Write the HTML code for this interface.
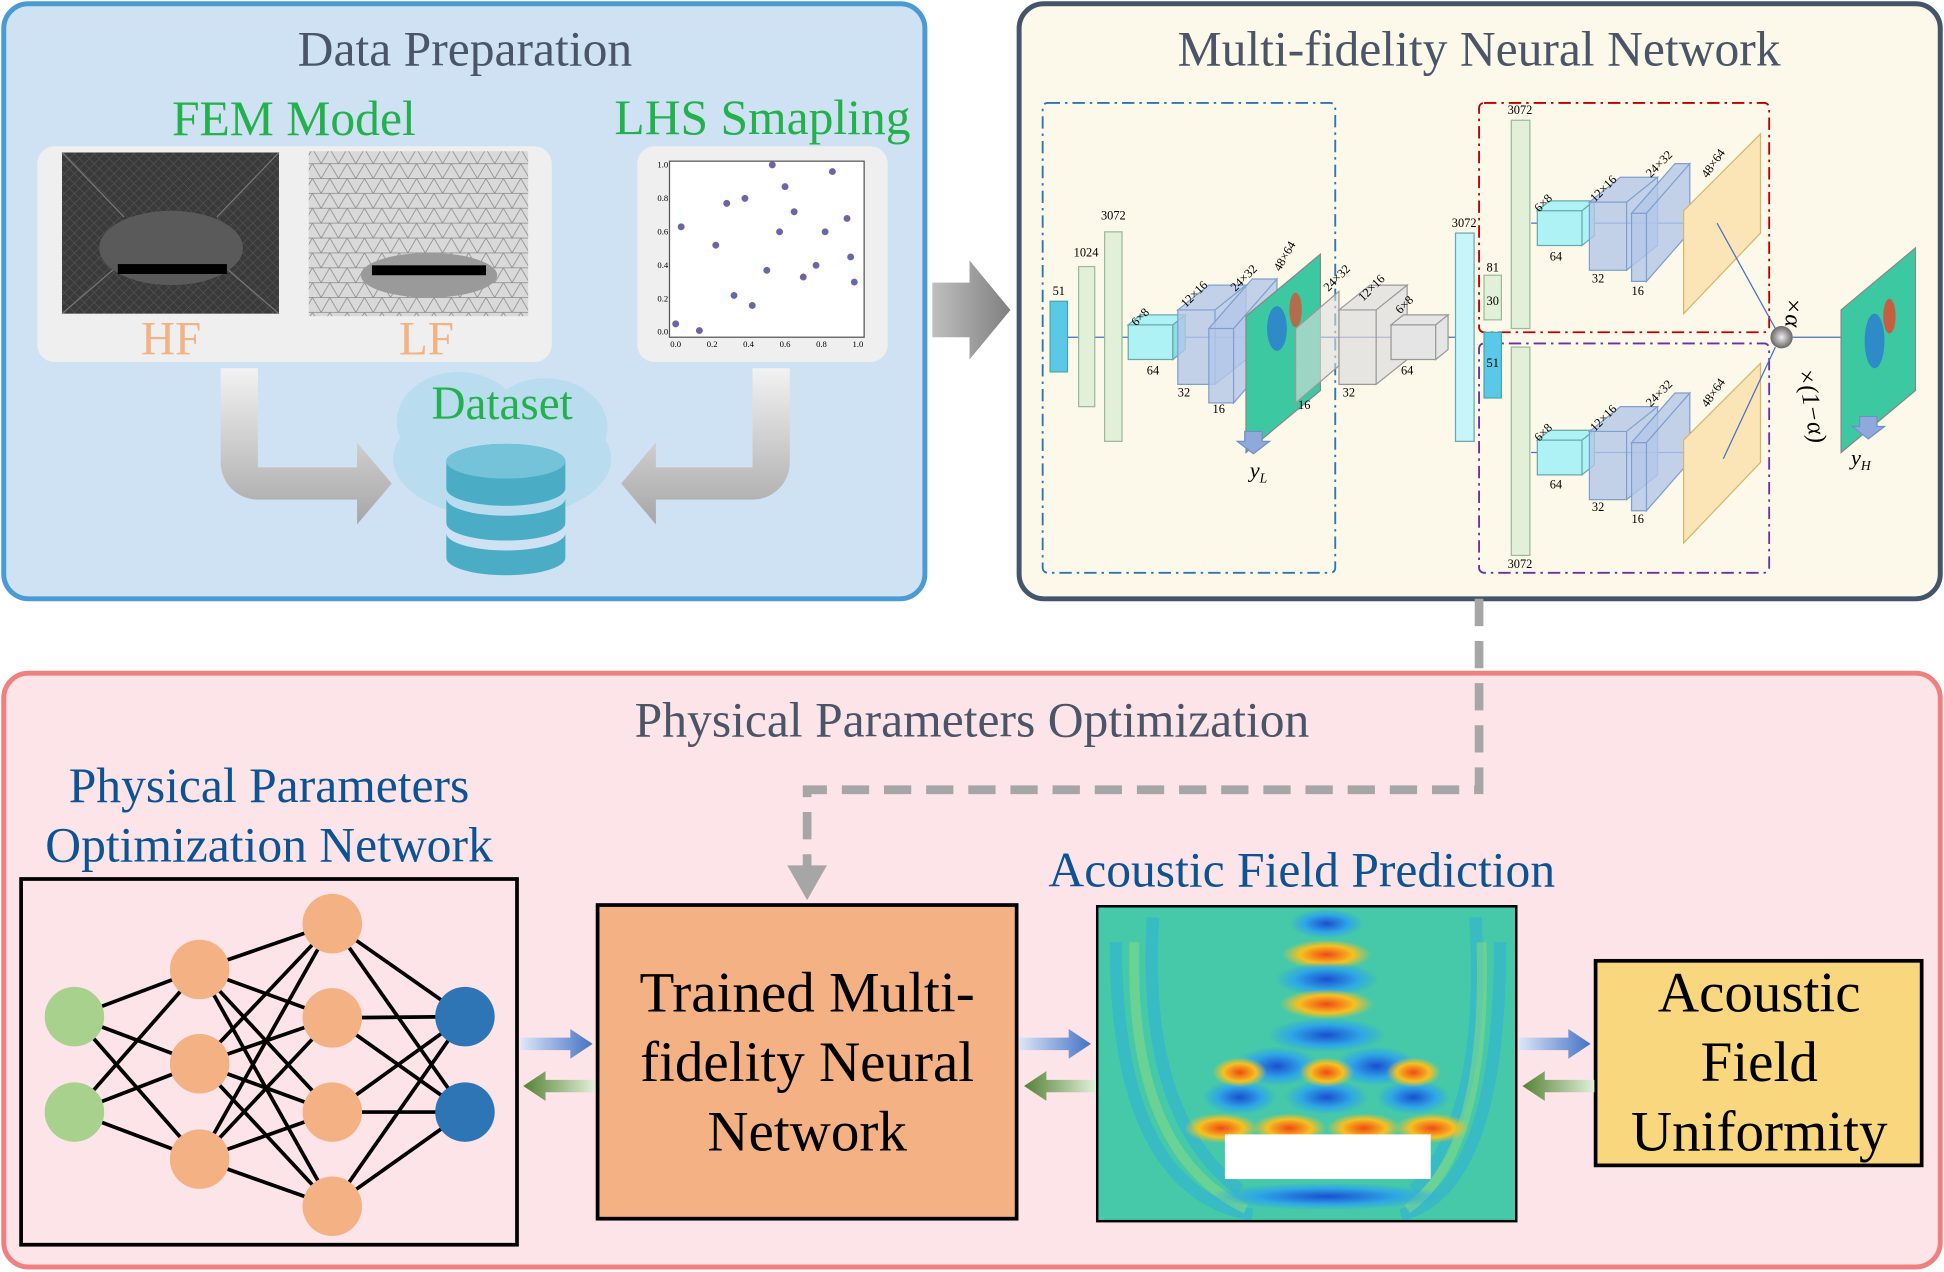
<!DOCTYPE html>
<html><head><meta charset="utf-8"><style>
html,body{margin:0;padding:0;background:#fff}
svg{display:block}
text{font-family:"Liberation Serif",serif}
</style></head><body>
<svg id="fig" width="1944" height="1272" viewBox="0 0 1568 1026" xmlns="http://www.w3.org/2000/svg">
<defs>
<linearGradient id="gArrowV" x1="0" y1="0" x2="0" y2="1"><stop offset="0" stop-color="#f2f2f2"/><stop offset="1" stop-color="#a6a6a6"/></linearGradient>
<linearGradient id="gBig" x1="0" y1="0" x2="1" y2="0"><stop offset="0" stop-color="#bfbfbf"/><stop offset="1" stop-color="#7f7f7f"/></linearGradient>
<linearGradient id="gBlue" x1="0" y1="0" x2="1" y2="0"><stop offset="0" stop-color="#dde6f7"/><stop offset="1" stop-color="#4472c4"/></linearGradient>
<linearGradient id="gGreen" x1="1" y1="0" x2="0" y2="0"><stop offset="0" stop-color="#e2f0d9"/><stop offset="1" stop-color="#548235"/></linearGradient>
<radialGradient id="gBall"><stop offset="0" stop-color="#eee"/><stop offset="1" stop-color="#666"/></radialGradient>
<pattern id="meshDark" width="8" height="8" patternUnits="userSpaceOnUse"><rect width="8" height="8" fill="#3a3a3a"/><path d="M0 0L8 8M0 8L8 0" stroke="#555" stroke-width="0.5"/></pattern>
<pattern id="meshLight" width="14" height="12" patternUnits="userSpaceOnUse"><rect width="14" height="12" fill="#d9d9d9"/><path d="M0 0L14 0L7 12Z M0 12L14 12" fill="none" stroke="#888" stroke-width="0.6"/></pattern>
<radialGradient id="fieldBlue"><stop offset="0" stop-color="#1a4fd0"/><stop offset="0.6" stop-color="#2fa7e6"/><stop offset="1" stop-color="#2fa7e6" stop-opacity="0"/></radialGradient>
<radialGradient id="fieldOrange"><stop offset="0" stop-color="#f04a14"/><stop offset="0.6" stop-color="#f6c021"/><stop offset="1" stop-color="#f6c021" stop-opacity="0"/></radialGradient>
</defs>

<g>
<rect x="3" y="3" width="743" height="480" rx="20" fill="#cfe2f3" stroke="#4a9bd4" stroke-width="4"/>
<text x="375" y="53" font-size="40" fill="#4a5568" text-anchor="middle">Data Preparation</text>
<text x="237" y="109" font-size="40" fill="#22b14c" text-anchor="middle">FEM Model</text>
<text x="615" y="108" font-size="40" fill="#22b14c" text-anchor="middle">LHS Smapling</text>
<rect x="30" y="118" width="415" height="174" rx="14" fill="#efefef"/>
<g>
<rect x="50" y="123" width="175" height="130" fill="url(#meshDark)"/>
<path d="M50 123L100 175M225 123L175 175M50 253L100 210M225 253L175 210" stroke="#777" stroke-width="1"/>
<ellipse cx="138" cy="200" rx="58" ry="30" fill="#5a5a5a"/>
<rect x="95" y="213" width="88" height="8" fill="#000"/>
</g>
<g>
<rect x="249" y="122" width="177" height="133" fill="url(#meshLight)"/>
<ellipse cx="346" cy="222" rx="55" ry="18" fill="#9a9a9a"/>
<rect x="300" y="214" width="92" height="8" fill="#000"/>
</g>
<text x="138" y="286" font-size="38" fill="#f4b183" text-anchor="middle">HF</text>
<text x="344" y="286" font-size="38" fill="#f4b183" text-anchor="middle">LF</text>
<rect x="514" y="118" width="202" height="174" rx="14" fill="#efefef"/>
<g id="lhsPlot">
<rect x="540" y="130" width="157" height="142" fill="#fff" stroke="#555" stroke-width="1"/>
</g>
<g>
<ellipse cx="405" cy="370" rx="88" ry="48" fill="#b9ddef"/>
<ellipse cx="370" cy="340" rx="50" ry="40" fill="#b9ddef"/>
<ellipse cx="440" cy="345" rx="50" ry="40" fill="#b9ddef"/>
</g>
<g fill="#4bacc6">
<path d="M360 372a48 14 0 0 1 96 0v22a48 14 0 0 1 -96 0z"/>
<path d="M360 402a48 14 0 0 0 96 0v20a48 14 0 0 1 -96 0z"/>
<path d="M360 430a48 14 0 0 0 96 0v20a48 14 0 0 1 -96 0z"/>
<ellipse cx="408" cy="372" rx="48" ry="14" fill="#74c3d8"/>
</g>
<text x="405" y="338" font-size="38" fill="#22b14c" text-anchor="middle">Dataset</text>
<path d="M178 297h30v80h80v-20l28 33-28 33v-20h-80a30 30 0 0 1 -30 -30z" fill="url(#gArrowV)"/>
<path d="M607 297h30v76a30 30 0 0 1 -30 30h-78v20l-28 -33 28 -33v20h78z" fill="url(#gArrowV)"/>
</g>

<path d="M752 228h30v-18l33 40-33 40v-18h-30z" fill="url(#gBig)"/>

<g>
<rect x="822" y="3" width="743" height="480" rx="20" fill="#fdf9ea" stroke="#44546a" stroke-width="4"/>
<text x="1193" y="53" font-size="40" fill="#4a5568" text-anchor="middle">Multi-fidelity Neural Network</text>
<rect x="841" y="83" width="236" height="379" rx="4" fill="none" stroke="#2e75b6" stroke-width="1.5" stroke-dasharray="10,4,2,4"/>
<rect x="1193" y="83" width="234" height="185" rx="4" fill="none" stroke="#c00000" stroke-width="1.5" stroke-dasharray="10,4,2,4"/>
<rect x="1193" y="277" width="234" height="185" rx="4" fill="none" stroke="#7030a0" stroke-width="1.5" stroke-dasharray="10,4,2,4"/>
<g font-size="10">
<line x1="855" y1="272" x2="1180" y2="272" stroke="#4472c4" stroke-width="1"/>
<rect x="847" y="243" width="14" height="57" fill="#5bc8e8" stroke="#4aa" /><text x="854" y="238" text-anchor="middle">51</text>
<rect x="870" y="215" width="13" height="113" fill="#e2efd9" stroke="#9b9"/><text x="876" y="207" text-anchor="middle">1024</text>
<rect x="891" y="187" width="14" height="169" fill="#e2efd9" stroke="#9b9"/><text x="898" y="177" text-anchor="middle">3072</text>
<path d="M910 262l10-8h36l-10 8zM910 262h36v28h-36z" fill="#aef2f5" stroke="#6aa"/><path d="M946 262l10-8v28l-10 8z" fill="#8adfe6" stroke="#6aa"/>
<text x="925" y="302">64</text><text x="910" y="262" transform="rotate(-45 915 255)">6×8</text>
<path d="M950 250l25-20h30l-25 20zM950 250h30v60h-30z M980 250l25-20v60l-25 20z" fill="#b4c7e7" fill-opacity="0.8" stroke="#7f9fcf"/>
<text x="950" y="320">32</text>
<path d="M975 265l35-40h20l-35 40zM975 265h20v60h-20zM995 265l35-40v60l-35 40z" fill="#b4c7e7" fill-opacity="0.8" stroke="#7f9fcf"/>
<text x="978" y="333">16</text>
<text x="955" y="245" transform="rotate(-45 960 245)">12×16</text>
<text x="995" y="232" transform="rotate(-45 1000 232)">24×32</text>
<text x="1030" y="215" transform="rotate(-60 1035 215)">48×64</text>
<path d="M1005 255l60-50v110l-60 50z" fill="#3cc8a0" stroke="#888"/>
<ellipse cx="1030" cy="265" rx="8" ry="18" fill="#2a6fd8" opacity="0.7"/><ellipse cx="1045" cy="250" rx="5" ry="14" fill="#e8452a" opacity="0.7"/>
<text x="1047" y="330">16</text>
<path d="M1045 265l35-30v60l-35 30z" fill="#ddd" fill-opacity="0.6" stroke="#999"/>
<path d="M1080 250l25-20h30l-25 20zM1080 250h30v60h-30zM1110 250l25-20v60l-25 20z" fill="#ddd" fill-opacity="0.7" stroke="#999"/>
<text x="1083" y="320">32</text>
<path d="M1122 262l10-8h36l-10 8zM1122 262h36v28h-36zM1158 262l10-8v28l-10 8z" fill="#e5e5e5" stroke="#999"/>
<text x="1130" y="302">64</text>
<text x="1070" y="232" transform="rotate(-45 1075 232)">24×32</text>
<text x="1098" y="240" transform="rotate(-45 1103 240)">12×16</text>
<text x="1128" y="250" transform="rotate(-45 1133 250)">6×8</text>
<path d="M1004 348h14v8h6l-13 10-13-10h6z" fill="#8fa9dc" stroke="#6f8fc8"/>
<text x="1008" y="385" font-size="18" font-style="italic">y<tspan font-size="11" dy="4">L</tspan></text>
</g>
<g font-size="10">
<rect x="1174" y="188" width="15" height="168" fill="#c8f5fa" stroke="#6aa"/><text x="1181" y="183" text-anchor="middle">3072</text>
<rect x="1197" y="222" width="14" height="36" fill="#e2efd9" stroke="#9b9"/><text x="1204" y="219" text-anchor="middle">81</text>
<text x="1204" y="246" text-anchor="middle">30</text>
<rect x="1197" y="268" width="14" height="53" fill="#5bc8e8" stroke="#4aa"/><text x="1204" y="296" text-anchor="middle">51</text>
<rect x="1219" y="97" width="15" height="168" fill="#e2efd9" stroke="#9b9"/><text x="1226" y="92" text-anchor="middle">3072</text>
<rect x="1219" y="280" width="15" height="168" fill="#e2efd9" stroke="#9b9"/><text x="1226" y="458" text-anchor="middle">3072</text>
<g>
<line x1="1235" y1="180" x2="1360" y2="180" stroke="#4472c4"/>
<path d="M1240 170l10-8h36l-10 8zM1240 170h36v28h-36zM1276 170l10-8v28l-10 8z" fill="#aef2f5" stroke="#6aa"/>
<text x="1250" y="210">64</text><text x="1240" y="168" transform="rotate(-45 1245 168)">6×8</text>
<path d="M1282 163l25-20h30l-25 20zM1282 163h30v55h-30zM1312 163l25-20v55l-25 20z" fill="#b4c7e7" fill-opacity="0.8" stroke="#7f9fcf"/><text x="1284" y="228">32</text>
<text x="1285" y="160" transform="rotate(-45 1290 160)">12×16</text>
<path d="M1316 172l35-40h12l-35 40zM1316 172h12v55h-12zM1328 172l35-40v55l-35 40z" fill="#b4c7e7" fill-opacity="0.8" stroke="#7f9fcf"/><text x="1316" y="238">16</text>
<text x="1330" y="140" transform="rotate(-45 1335 140)">24×32</text>
<path d="M1358 170l62-62v80l-62 65z" fill="#fbe5b6" stroke="#d6b66a"/>
<text x="1375" y="140" transform="rotate(-55 1380 140)">48×64</text>
</g>
<g>
<line x1="1235" y1="365" x2="1360" y2="365" stroke="#4472c4"/>
<path d="M1240 355l10-8h36l-10 8zM1240 355h36v28h-36zM1276 355l10-8v28l-10 8z" fill="#aef2f5" stroke="#6aa"/>
<text x="1250" y="394">64</text><text x="1240" y="353" transform="rotate(-45 1245 353)">6×8</text>
<path d="M1282 348l25-20h30l-25 20zM1282 348h30v55h-30zM1312 348l25-20v55l-25 20z" fill="#b4c7e7" fill-opacity="0.8" stroke="#7f9fcf"/><text x="1284" y="412">32</text>
<text x="1285" y="345" transform="rotate(-45 1290 345)">12×16</text>
<path d="M1316 357l35-40h12l-35 40zM1316 357h12v55h-12zM1328 357l35-40v55l-35 40z" fill="#b4c7e7" fill-opacity="0.8" stroke="#7f9fcf"/><text x="1316" y="422">16</text>
<text x="1330" y="325" transform="rotate(-45 1335 325)">24×32</text>
<path d="M1358 355l62-62v80l-62 65z" fill="#fbe5b6" stroke="#d6b66a"/>
<text x="1375" y="325" transform="rotate(-55 1380 325)">48×64</text>
</g>
<line x1="1385" y1="180" x2="1432" y2="265" stroke="#4472c4"/><line x1="1390" y1="370" x2="1432" y2="280" stroke="#4472c4"/>
<circle cx="1437" cy="272" r="9" fill="url(#gBall)"/>
<line x1="1446" y1="272" x2="1485" y2="272" stroke="#4472c4"/>
<text x="1448" y="248" font-size="20" font-style="italic" transform="rotate(90 1448 240)">×α</text>
<text x="1440" y="290" font-size="20" font-style="italic" transform="rotate(80 1440 300)">×(1−α)</text>
<path d="M1485 250l60-50v115l-60 50z" fill="#3cc8a0" stroke="#888"/>
<ellipse cx="1512" cy="275" rx="8" ry="22" fill="#2a6fd8" opacity="0.7"/><ellipse cx="1524" cy="255" rx="5" ry="14" fill="#e8452a" opacity="0.8"/>
<path d="M1500 336h14v8h6l-13 10-13-10h6z" fill="#8fa9dc" stroke="#6f8fc8"/>
<text x="1493" y="375" font-size="18" font-style="italic">y<tspan font-size="11" dy="4">H</tspan></text>
</g>
</g>

<g>
<rect x="3" y="543" width="1562" height="479" rx="20" fill="#fde4e8" stroke="#f08080" stroke-width="4"/>
<text x="784" y="594" font-size="40" fill="#4a5568" text-anchor="middle">Physical Parameters Optimization</text>
<path d="M1193 483V637H651V700" fill="none" stroke="#a6a6a6" stroke-width="7" stroke-dasharray="22,12"/>
<path d="M635 698h32l-16 28z" fill="#a6a6a6"/>
<text x="217" y="647" font-size="40" fill="#0b5394" text-anchor="middle">Physical Parameters</text>
<text x="217" y="695" font-size="40" fill="#0b5394" text-anchor="middle">Optimization Network</text>
<rect x="17" y="709" width="400" height="295" fill="#fde4e8" stroke="#000" stroke-width="3"/>
<g id="nn"></g>
<rect x="482" y="730" width="338" height="253" fill="#f4b183" stroke="#000" stroke-width="3"/>
<text font-size="46" text-anchor="middle" fill="#000"><tspan x="651" y="816">Trained Multi-</tspan><tspan x="651" y="872">fidelity Neural</tspan><tspan x="651" y="928">Network</tspan></text>
<text x="1050" y="715" font-size="40" fill="#0b5394" text-anchor="middle">Acoustic Field Prediction</text>
<g>
<rect x="885" y="731" width="338" height="254" fill="#46c9a8"/>
<g fill="none" stroke="#2fb3d6" stroke-width="10" opacity="0.6">
<path d="M900 760 Q 900 960 1010 980"/><path d="M1210 760 Q 1210 960 1130 980"/>
<path d="M930 740 Q 920 900 1000 960"/><path d="M1190 740 Q 1200 900 1140 960"/>
</g>
<g fill="none" stroke="#8edc80" stroke-width="8" opacity="0.5">
<path d="M915 760 Q 910 930 1005 975"/><path d="M1195 760 Q 1200 930 1135 975"/>
</g>
<g id="field"></g>
<rect x="988" y="915" width="166" height="36" fill="#fff"/>
<rect x="885" y="731" width="338" height="254" fill="none" stroke="#000" stroke-width="2"/>
</g>
<rect x="1287" y="775" width="263" height="165" fill="#f9d77e" stroke="#000" stroke-width="3"/>
<text font-size="46" text-anchor="middle"><tspan x="1419" y="816">Acoustic</tspan><tspan x="1419" y="872">Field</tspan><tspan x="1419" y="928">Uniformity</tspan></text>
<g>
<path d="M420 837h40v-7l18 12-18 12v-7h-40z" fill="url(#gBlue)"/>
<path d="M480 871h-40v-7l-18 12 18 12v-7h40z" fill="url(#gGreen)"/>
<path d="M822 837h40v-7l18 12-18 12v-7h-40z" fill="url(#gBlue)"/>
<path d="M884 871h-40v-7l-18 12 18 12v-7h40z" fill="url(#gGreen)"/>
<path d="M1225 837h40v-7l18 12-18 12v-7h-40z" fill="url(#gBlue)"/>
<path d="M1286 871h-40v-7l-18 12 18 12v-7h40z" fill="url(#gGreen)"/>
</g>
</g>
</svg>
<script>
const NS='http://www.w3.org/2000/svg';
const lhsX=[0.0,0.03,0.13,0.22,0.28,0.32,0.38,0.42,0.5,0.53,0.57,0.6,0.65,0.7,0.77,0.82,0.86,0.94,0.96,0.98];
const lhsY=[0.05,0.63,0.01,0.52,0.77,0.22,0.8,0.16,0.37,1.0,0.6,0.87,0.72,0.33,0.4,0.6,0.96,0.68,0.45,0.3];
const lhs=document.getElementById('lhsPlot');
const px=v=>545+v*147, py=v=>268-v*135;
for(let i=0;i<lhsX.length;i++){const c=document.createElementNS(NS,'circle');
c.setAttribute('cx',px(lhsX[i]));c.setAttribute('cy',py(lhsY[i]));c.setAttribute('r',2.5);
c.setAttribute('fill','#4472c4');c.setAttribute('stroke','#c0504d');c.setAttribute('stroke-width','0.6');


lhs.appendChild(c);}
const ticks=['0.0','0.2','0.4','0.6','0.8','1.0'];
ticks.forEach((t,i)=>{let a=document.createElementNS(NS,'text');a.setAttribute('x',px(i/5));a.setAttribute('y',280);a.setAttribute('font-size','7');a.setAttribute('text-anchor','middle');a.textContent=t;


lhs.appendChild(a);
let b=document.createElementNS(NS,'text');b.setAttribute('x',539);b.setAttribute('y',py(i/5)+2);b.setAttribute('font-size','7');b.setAttribute('text-anchor','end');b.textContent=t;


lhs.appendChild(b);});
const layerX=[60,161,268,375];
const layerY=[[820,897],[782,858,935],[745,821,897,973],[820,897]];
const layerFill=['#a9d18e','#f4b183','#f4b183','#2e75b6'];
const nn=document.getElementById('nn');
for(let l=0;l<3;l++)for(const a of layerY[l])for(const b of layerY[l+1]){const ln=document.createElementNS(NS,'line');
ln.setAttribute('x1',layerX[l]);ln.setAttribute('y1',a);ln.setAttribute('x2',layerX[l+1]);ln.setAttribute('y2',b);ln.setAttribute('stroke','#000');ln.setAttribute('stroke-width','3');


nn.appendChild(ln);}
for(let l=0;l<4;l++)for(const y of layerY[l]){const c=document.createElementNS(NS,'circle');
c.setAttribute('cx',layerX[l]);c.setAttribute('cy',y);c.setAttribute('r',24);c.setAttribute('fill',layerFill[l]);


nn.appendChild(c);}
const blobX=[1070,1070,1070,1070,1070,1030,1110,1000,1070,1140,1000,1070,1140,985,1040,1100,1155,1070];
const blobY=[745,770,790,810,835,860,860,885,885,885,865,865,865,910,910,910,910,965];
const blobRX=[30,36,42,38,48,34,34,30,34,30,22,22,22,30,30,30,30,95];
const blobRY=[12,12,14,12,14,16,16,14,14,14,12,12,12,12,12,12,12,11];
const blobT=['b','o','b','o','b','b','b','b','b','b','o','o','o','o','o','o','o','b'];
const field=document.getElementById('field');
for(let i=0;i<blobX.length;i++){const e=document.createElementNS(NS,'ellipse');
e.setAttribute('cx',blobX[i]);e.setAttribute('cy',blobY[i]);e.setAttribute('rx',blobRX[i]);e.setAttribute('ry',blobRY[i]);
e.setAttribute('fill',blobT[i]==='b'?'url(#fieldBlue)':'url(#fieldOrange)');


field.appendChild(e);}
</script>
</body></html>
